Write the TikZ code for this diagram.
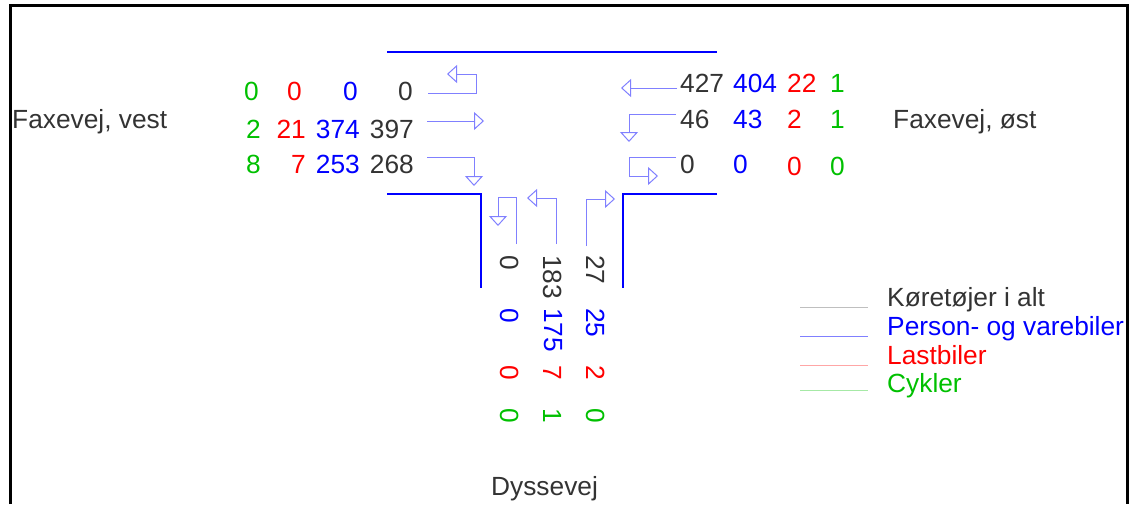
\documentclass[tikz,border=0pt]{standalone}
\usepackage{fontspec}
\setmainfont{Liberation Sans}
\usetikzlibrary{arrows.meta}
\definecolor{tal}{HTML}{333333}
\definecolor{pv}{HTML}{0000FF}
\definecolor{lb}{HTML}{FF0000}
\definecolor{ck}{HTML}{00C000}
\definecolor{pilblaa}{HTML}{8080FF}
\tikzstyle{txt}=[inner sep=0, font=\fontsize{26.3}{30}\selectfont]
\tikzstyle{vst}=[txt, anchor=base east]
\tikzstyle{ost}=[txt, anchor=base west]
\tikzstyle{lodret}=[txt, rotate=-90, anchor=west]
\tikzstyle{pil}=[draw=pilblaa, line width=1pt, -{Triangle[open, length=10pt, width=18pt]}]
\tikzstyle{vej}=[draw=pv, line width=2pt]

\begin{document}
\begin{tikzpicture}[x=1pt, y=-1pt]
\useasboundingbox (0,0) rectangle (1139,504);
\draw[line width=3pt] (10,504)--(10,5)--(1127,5)--(1127,504);
\draw[vej] (387,52)--(717,52);
\draw[vej] (387,194)--(481,194)--(481,288);
\draw[vej] (717,194)--(623,194)--(623,288);
\node at (12,128)[ost,text=tal](vest){Faxevej, vest};
\node at (893,128)[ost,text=tal](ost){Faxevej, øst};
\node at (491,495)[ost,text=tal](dys){Dyssevej};
\node at (259,100)[vst,text=ck](v1){0};
\node at (302,100)[vst,text=lb](v2){0};
\node at (358,100)[vst,text=pv](v3){0};
\node at (413,100)[vst,text=tal](v4){0};
\node at (261,138)[vst,text=ck](v5){2};
\node at (306,138)[vst,text=lb](v6){21};
\node at (360,138)[vst,text=pv](v7){374};
\node at (414,138)[vst,text=tal](v8){397};
\node at (261,173)[vst,text=ck](v9){8};
\node at (306,173)[vst,text=lb](v10){7};
\node at (360,173)[vst,text=pv](v11){253};
\node at (414,173)[vst,text=tal](v12){268};
\node at (680,92)[ost,text=tal](o1){427};
\node at (733,92)[ost,text=pv](o2){404};
\node at (787,92)[ost,text=lb](o3){22};
\node at (830,92)[ost,text=ck](o4){1};
\node at (680,128)[ost,text=tal](o5){46};
\node at (733,128)[ost,text=pv](o6){43};
\node at (787,128)[ost,text=lb](o7){2};
\node at (830,128)[ost,text=ck](o8){1};
\node at (680,173)[ost,text=tal](o9){0};
\node at (733,173)[ost,text=pv](o10){0};
\node at (787,175)[ost,text=lb](o11){0};
\node at (830,175)[ost,text=ck](o12){0};
\node at (510,255)[lodret,text=tal](d1){0};
\node at (553,255)[lodret,text=tal](d2){183};
\node at (596,255)[lodret,text=tal](d3){27};
\node at (510,308)[lodret,text=pv](d4){0};
\node at (553,308)[lodret,text=pv](d5){175};
\node at (596,308)[lodret,text=pv](d6){25};
\node at (510,365)[lodret,text=lb](d7){0};
\node at (553,365)[lodret,text=lb](d8){7};
\node at (596,365)[lodret,text=lb](d9){2};
\node at (510,408)[lodret,text=ck](d10){0};
\node at (553,408)[lodret,text=ck](d11){1};
\node at (596,408)[lodret,text=ck](d12){0};
\coordinate (a1) at (428,93);
\coordinate (a2) at (427,121);
\coordinate (a3) at (427,157);
\coordinate (b1) at (677,88);
\coordinate (b2) at (676,114);
\coordinate (b3) at (676,157);
\coordinate (c1) at (516,244);
\coordinate (c2) at (556,244);
\coordinate (c3) at (586,246);
\draw[pil] (a1)--++(48,0)--++(0,-19)--++(-29,0);
\draw[pil] (a2)--++(57,0);
\draw[pil] (a3)--++(47,0)--++(0,29);
\draw[pil] (b1)--++(-56,0);
\draw[pil] (b2)--++(-47,0)--++(0,28);
\draw[pil] (b3)--++(-47,0)--++(0,19)--++(29,0);
\draw[pil] (c1)--++(0,-47)--++(-18,0)--++(0,29);
\draw[pil] (c2)--++(0,-46)--++(-29,0);
\draw[pil] (c3)--++(0,-47)--++(29,0);
\node at (887,306)[ost,text=tal](l1){Køretøjer i alt};
\node at (887,335)[ost,text=pv](l2){Person- og varebiler};
\node at (887,364)[ost,text=lb](l3){Lastbiler};
\node at (887,392)[ost,text=ck](l4){Cykler};
\coordinate (k1) at (800,307);
\coordinate (k2) at (800,336);
\coordinate (k3) at (800,365);
\coordinate (k4) at (800,390);
\draw[line width=1pt, draw=black!25] (k1)--++(68,0);
\draw[line width=1pt, draw=pilblaa] (k2)--++(68,0);
\draw[line width=1pt, draw=lb!35] (k3)--++(68,0);
\draw[line width=1pt, draw=ck!35] (k4)--++(68,0);
\end{tikzpicture}
\end{document}
